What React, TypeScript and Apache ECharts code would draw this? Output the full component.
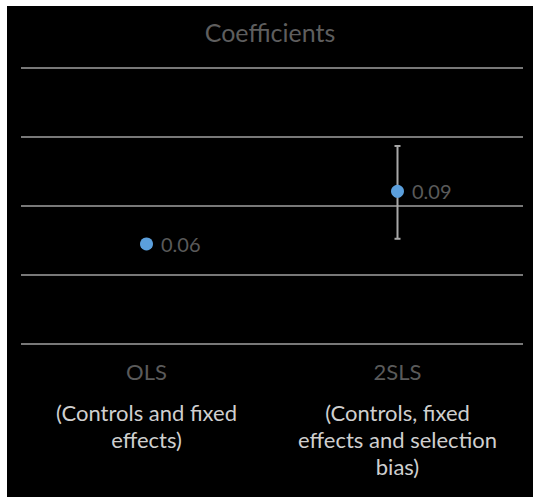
import React, { useEffect, useRef } from "react";
import * as echarts from "echarts";

const categories = ["OLS", "2SLS"];
const descriptions = [
  ["(Controls and fixed", "effects)"],
  ["(Controls, fixed", "effects and selection", "bias)"],
];
const coefficients = [0.058, 0.0885];
const errorLow: (number | null)[] = [null, 0.061];
const errorHigh: (number | null)[] = [null, 0.1148];

export default function App() {
  const ref = useRef<HTMLDivElement>(null);
  useEffect(() => {
    if (!ref.current) return;
    const chart = echarts.init(ref.current, null, { renderer: "svg" });
    const font = "Lato, 'Open Sans', sans-serif";
    const errData = categories
      .map((c, i) => [i, errorLow[i], errorHigh[i]])
      .filter((d) => d[1] != null);
    chart.setOption({
      animation: false,
      backgroundColor: "#000000",
      textStyle: { fontFamily: font },
      title: {
        text: "Coefficients",
        left: "center",
        top: 8,
        textStyle: { color: "#5e5e5e", fontSize: 25, fontWeight: "normal", fontFamily: font },
      },
      grid: { left: 14, right: 10, top: 62, bottom: 153, containLabel: false },
      xAxis: {
        type: "category",
        data: categories,
        axisLine: { show: false },
        axisTick: { show: false },
        axisLabel: {
          interval: 0,
          margin: 0,
          formatter: (v: string, i: number) =>
            "{a|" + v + "}\n" + descriptions[i].map((d) => "{b|" + d + "}").join("\n"),
          rich: {
            a: { color: "#5a5a5a", fontSize: 22, lineHeight: 55, fontFamily: font, align: "center" },
            b: { color: "#cfcfcf", fontSize: 22, lineHeight: 27, fontFamily: font, align: "center" },
          },
        },
      },
      yAxis: {
        type: "value",
        min: 0,
        max: 0.16,
        interval: 0.04,
        axisLabel: { show: false },
        axisLine: { show: false },
        axisTick: { show: false },
        splitLine: { lineStyle: { color: "#a0a0a0", width: 1.5 } },
      },
      series: [
        {
          type: "custom",
          data: errData,
          z: 2,
          renderItem: (params: any, api: any) => {
            const x = api.value(0);
            const lo = api.coord([x, api.value(1)]);
            const hi = api.coord([x, api.value(2)]);
            const cap = 3;
            const style = { stroke: "#a8a8a8", lineWidth: 2 };
            return {
              type: "group",
              children: [
                { type: "line", shape: { x1: lo[0], y1: lo[1], x2: hi[0], y2: hi[1] }, style },
                { type: "line", shape: { x1: lo[0] - cap, y1: lo[1], x2: lo[0] + cap, y2: lo[1] }, style },
                { type: "line", shape: { x1: hi[0] - cap, y1: hi[1], x2: hi[0] + cap, y2: hi[1] }, style },
              ],
            };
          },
        },
        {
          type: "scatter",
          data: coefficients,
          z: 3,
          symbol: "circle",
          symbolSize: 13,
          itemStyle: { color: "#5b9fdc", opacity: 1 },
          label: {
            show: true,
            position: "right",
            distance: 8,
            color: "#5a5a5a",
            fontSize: 20,
            fontFamily: font,
            formatter: (p: any) => Number(p.value).toFixed(2),
          },
        },
      ],
    });
    return () => chart.dispose();
  }, []);
  return (
    <div
      ref={ref}
      style={{ position: "absolute", left: 7, top: 6, width: 526, height: 491 }}
    />
  );
}
